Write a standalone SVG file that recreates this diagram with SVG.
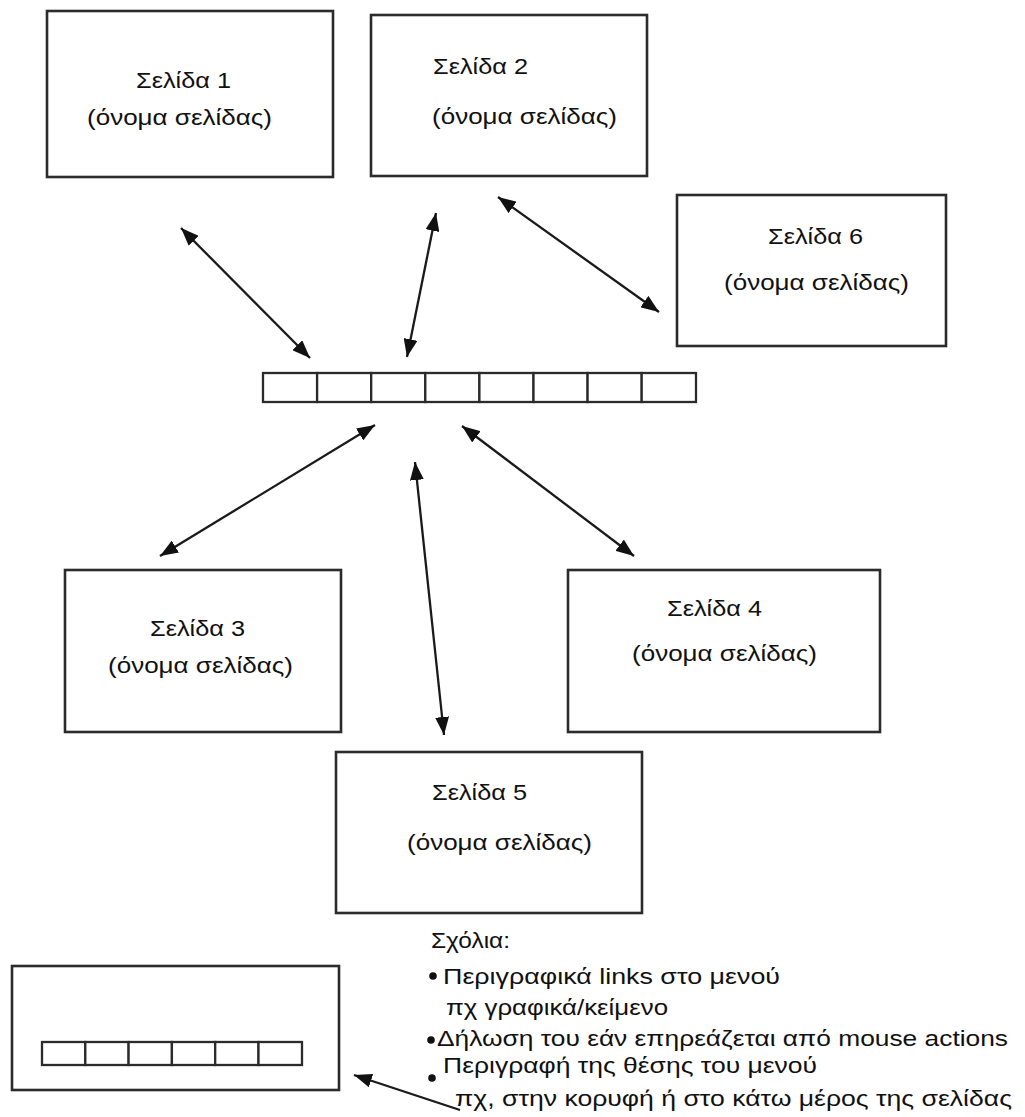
<svg xmlns="http://www.w3.org/2000/svg" width="1025" height="1117" viewBox="0 0 1025 1117">
  <defs>
    <marker id="head" viewBox="0 0 18 14" refX="18" refY="7" markerWidth="18" markerHeight="14" markerUnits="userSpaceOnUse" orient="auto-start-reverse">
      <path d="M0,0 L18,7 L0,14 z" fill="#111"/>
    </marker>
    <style>
      .box { fill: #fff; stroke: #2b2b2b; stroke-width: 2.6; }
      .cell { fill: #fff; stroke: #2b2b2b; stroke-width: 2.3; }
      .link { fill: none; stroke: #1a1a1a; stroke-width: 2.3; }
      .lbl { font-family: "Liberation Sans", Arial, sans-serif; font-size: 22px; fill: #111; }
      .note { font-family: "Liberation Sans", Arial, sans-serif; font-size: 22px; fill: #111; }
      .dot { fill: #111; }
    </style>
  </defs>
  <rect width="1025" height="1117" fill="#fff"/>

  <!-- page boxes -->
  <g id="page1">
    <rect class="box" x="47" y="11" width="286" height="166"/>
    <text class="lbl" x="136" y="88" textLength="95" lengthAdjust="spacingAndGlyphs">Σελίδα 1</text>
    <text class="lbl" x="87" y="125" textLength="185" lengthAdjust="spacingAndGlyphs">(όνομα σελίδας)</text>
  </g>
  <g id="page2">
    <rect class="box" x="371" y="15" width="276" height="161"/>
    <text class="lbl" x="433" y="74" textLength="95" lengthAdjust="spacingAndGlyphs">Σελίδα 2</text>
    <text class="lbl" x="432" y="124" textLength="185" lengthAdjust="spacingAndGlyphs">(όνομα σελίδας)</text>
  </g>
  <g id="page6">
    <rect class="box" x="677" y="195" width="269" height="151"/>
    <text class="lbl" x="768" y="244" textLength="95" lengthAdjust="spacingAndGlyphs">Σελίδα 6</text>
    <text class="lbl" x="724" y="290" textLength="185" lengthAdjust="spacingAndGlyphs">(όνομα σελίδας)</text>
  </g>
  <g id="page3">
    <rect class="box" x="65" y="570" width="276" height="162"/>
    <text class="lbl" x="150" y="636" textLength="95" lengthAdjust="spacingAndGlyphs">Σελίδα 3</text>
    <text class="lbl" x="108" y="673" textLength="185" lengthAdjust="spacingAndGlyphs">(όνομα σελίδας)</text>
  </g>
  <g id="page4">
    <rect class="box" x="568" y="570" width="312" height="162"/>
    <text class="lbl" x="667" y="616" textLength="95" lengthAdjust="spacingAndGlyphs">Σελίδα 4</text>
    <text class="lbl" x="632" y="661" textLength="185" lengthAdjust="spacingAndGlyphs">(όνομα σελίδας)</text>
  </g>
  <g id="page5">
    <rect class="box" x="336" y="752" width="306" height="161"/>
    <text class="lbl" x="432" y="800" textLength="95" lengthAdjust="spacingAndGlyphs">Σελίδα 5</text>
    <text class="lbl" x="407" y="850" textLength="185" lengthAdjust="spacingAndGlyphs">(όνομα σελίδας)</text>
  </g>

  <!-- central navigation bar, eight slots -->
  <g id="menu">
    <rect class="cell" x="263" y="373" width="54.1" height="29"/>
    <rect class="cell" x="317.1" y="373" width="54.1" height="29"/>
    <rect class="cell" x="371.2" y="373" width="54.1" height="29"/>
    <rect class="cell" x="425.3" y="373" width="54.1" height="29"/>
    <rect class="cell" x="479.4" y="373" width="54.1" height="29"/>
    <rect class="cell" x="533.5" y="373" width="54.1" height="29"/>
    <rect class="cell" x="587.6" y="373" width="54.1" height="29"/>
    <rect class="cell" x="641.7" y="373" width="54.3" height="29"/>
  </g>

  <!-- page layout sketch with its menu strip -->
  <g id="layout">
    <rect class="box" x="12" y="966" width="327" height="124"/>
    <rect class="cell" x="42" y="1042" width="43.3" height="23"/>
    <rect class="cell" x="85.3" y="1042" width="43.3" height="23"/>
    <rect class="cell" x="128.6" y="1042" width="43.3" height="23"/>
    <rect class="cell" x="171.9" y="1042" width="43.3" height="23"/>
    <rect class="cell" x="215.2" y="1042" width="43.3" height="23"/>
    <rect class="cell" x="258.5" y="1042" width="43.5" height="23"/>
  </g>

  <!-- notes -->
  <g id="notes">
    <text class="note" x="431" y="948" textLength="79" lengthAdjust="spacingAndGlyphs">Σχόλια:</text>
    <circle class="dot" cx="433" cy="976" r="3.8"/>
    <text class="note" x="443" y="984" textLength="337" lengthAdjust="spacingAndGlyphs">Περιγραφικά links στο μενού</text>
    <text class="note" x="446" y="1015" textLength="222" lengthAdjust="spacingAndGlyphs">πχ γραφικά/κείμενο</text>
    <circle class="dot" cx="431" cy="1040" r="3.8"/>
    <text class="note" x="437" y="1046" textLength="571" lengthAdjust="spacingAndGlyphs">Δήλωση του εάν επηρεάζεται από mouse actions</text>
    <circle class="dot" cx="432" cy="1078" r="3.8"/>
    <text class="note" x="443" y="1073" textLength="374" lengthAdjust="spacingAndGlyphs">Περιγραφή της θέσης του μενού</text>
    <text class="note" x="455" y="1106" textLength="557" lengthAdjust="spacingAndGlyphs">πχ, στην κορυφή ή στο κάτω μέρος της σελίδας</text>
  </g>

  <!-- links between the bar and the pages -->
  <g id="connectors">
    <line class="link" x1="181" y1="228" x2="310" y2="358" marker-start="url(#head)" marker-end="url(#head)"/>
    <line class="link" x1="436" y1="213" x2="407" y2="357" marker-start="url(#head)" marker-end="url(#head)"/>
    <line class="link" x1="498" y1="197" x2="659" y2="312" marker-start="url(#head)" marker-end="url(#head)"/>
    <line class="link" x1="375" y1="425" x2="160" y2="556" marker-start="url(#head)" marker-end="url(#head)"/>
    <line class="link" x1="462" y1="426" x2="634" y2="556" marker-start="url(#head)" marker-end="url(#head)"/>
    <line class="link" x1="415" y1="462" x2="444" y2="735" marker-start="url(#head)" marker-end="url(#head)"/>
    <line class="link" x1="460" y1="1110" x2="354" y2="1075" marker-end="url(#head)"/>
  </g>
</svg>
